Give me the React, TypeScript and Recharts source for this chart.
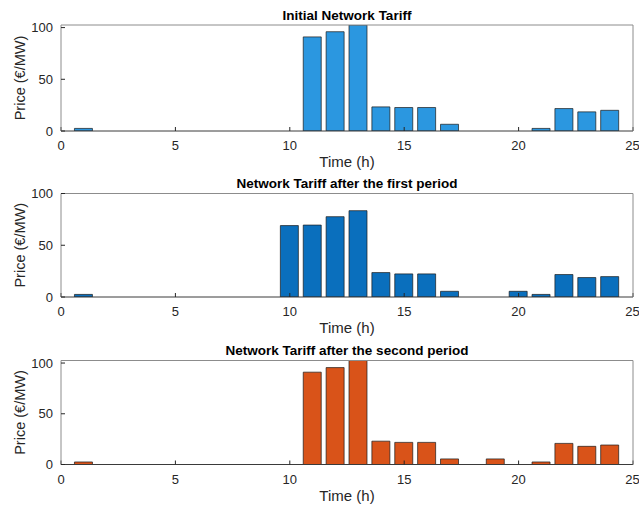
import { BarChart, Bar, XAxis, YAxis, Label } from "recharts";

const hours = [1, 2, 3, 4, 5, 6, 7, 8, 9, 10, 11, 12, 13, 14, 15, 16, 17, 18, 19, 20, 21, 22, 23, 24];

const initialTariff = [2.5, 0, 0, 0, 0, 0, 0, 0, 0, 0, 91, 96, 102.5, 23.3, 22.7, 22.7, 6.5, 0, 0, 0, 2.5, 21.7, 18.5, 20];
const firstPeriodTariff = [2.5, 0, 0, 0, 0, 0, 0, 0, 0, 69, 69.5, 77.6, 83.4, 23.6, 22.3, 22.3, 5.5, 0, 0, 5.5, 2.5, 21.7, 18.8, 19.7];
const secondPeriodTariff = [2.5, 0, 0, 0, 0, 0, 0, 0, 0, 0, 91, 95.5, 102.5, 23, 21.8, 21.8, 5.5, 0, 5.5, 0, 2.5, 20.8, 17.9, 19.2];

const titles = [
  "Initial Network Tariff",
  "Network Tariff after the first period",
  "Network Tariff after the second period",
];
const xTicks = [0, 5, 10, 15, 20, 25];
const yTicks = [0, 50, 100];
const yMax = [102.5, 100, 102.5];

const FONT = "'Liberation Sans', Arial, sans-serif";
const TEXT = "#262626";
const BOX = "#8c8c8c";

// panel layout: offset on page, plot top/bottom inside the panel
const PANEL_H = 172;
const layout = [
  { top: 0, plotTop: 25, plotBottom: 131 },
  { top: 168, plotTop: 25.5, plotBottom: 129 },
  { top: 334, plotTop: 26.5, plotBottom: 130.5 },
];
const colors = ["#2b97e0", "#0a6fbd", "#d95319"];

function Panel({ idx, values }: { idx: number; values: number[] }) {
  const data = hours.map((h, i) => ({ hour: h, price: values[i] }));
  const { top, plotTop, plotBottom } = layout[idx];
  const tickStyle = { fill: TEXT, fontSize: 13, fontFamily: FONT };

  return (
    <div style={{ position: "absolute", left: 0, top }}>
      <BarChart
        width={639}
        height={PANEL_H}
        data={data}
        margin={{ top: plotTop - 1, right: 5, left: 60, bottom: PANEL_H - plotBottom - 1 }}
      >
        <XAxis
          dataKey="hour"
          type="number"
          domain={[0, 25]}
          ticks={xTicks}
          height={1}
          tick={tickStyle}
          tickSize={-4}
          tickMargin={14}
          axisLine={{ stroke: "#3a3a3a" }}
          tickLine={{ stroke: TEXT }}
          allowDataOverflow
        >
          <Label
            content={(p: any) => (
              <text
                x={p.viewBox.x + p.viewBox.width / 2}
                y={p.viewBox.y + 36}
                textAnchor="middle"
                fontSize={15}
                fontFamily={FONT}
                fill={TEXT}
              >
                Time (h)
              </text>
            )}
          />
        </XAxis>
        <XAxis
          xAxisId="top"
          dataKey="hour"
          type="number"
          orientation="top"
          domain={[0, 25]}
          ticks={xTicks}
          height={1}
          tick={false}
          tickSize={-4}
          axisLine={{ stroke: BOX }}
          tickLine={{ stroke: TEXT }}
        >
          <Label
            content={(p: any) => (
              <text
                x={p.viewBox.x + p.viewBox.width / 2}
                y={p.viewBox.y + p.viewBox.height - 5.5}
                textAnchor="middle"
                fontSize={13.5}
                fontWeight="bold"
                fontFamily={FONT}
                fill="#000"
              >
                {titles[idx]}
              </text>
            )}
          />
        </XAxis>
        <YAxis
          domain={[0, yMax[idx]]}
          ticks={yTicks}
          width={1}
          tick={tickStyle}
          tickSize={-4}
          tickMargin={12}
          axisLine={{ stroke: BOX }}
          tickLine={{ stroke: TEXT }}
          allowDataOverflow
        >
          <Label
            content={(p: any) => {
              const x = p.viewBox.x - 35;
              const y = p.viewBox.y + p.viewBox.height / 2;
              return (
                <text
                  x={x}
                  y={y}
                  transform={`rotate(-90, ${x}, ${y})`}
                  textAnchor="middle"
                  fontSize={14.5}
                  fontFamily={FONT}
                  fill={TEXT}
                >
                  Price (€/MW)
                </text>
              );
            }}
          />
        </YAxis>
        <YAxis
          yAxisId="right"
          orientation="right"
          domain={[0, yMax[idx]]}
          ticks={yTicks}
          width={1}
          tick={false}
          tickSize={-4}
          axisLine={{ stroke: BOX }}
          tickLine={{ stroke: TEXT }}
        />
        <Bar
          dataKey="price"
          fill={colors[idx]}
          stroke="#1a1a1a"
          strokeWidth={0.7}
          barSize={18}
          isAnimationActive={false}
        />
      </BarChart>
    </div>
  );
}

export default function App() {
  return (
    <div style={{ position: "absolute", left: 0, top: 0, width: 639, height: 506, background: "#fff", overflow: "hidden" }}>
      <Panel idx={0} values={initialTariff} />
      <Panel idx={1} values={firstPeriodTariff} />
      <Panel idx={2} values={secondPeriodTariff} />
    </div>
  );
}
